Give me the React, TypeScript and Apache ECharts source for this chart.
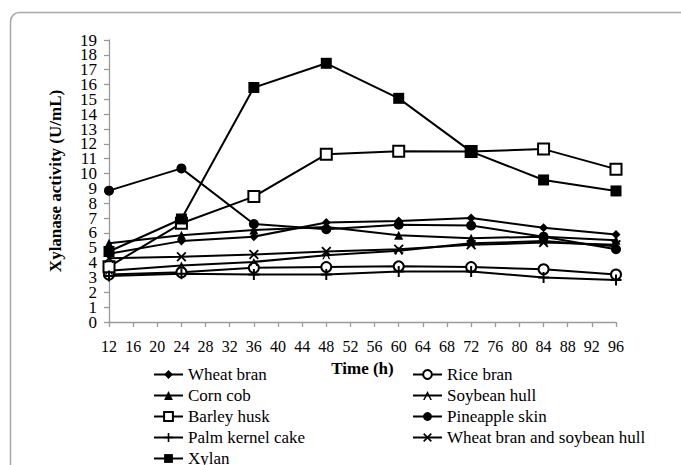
import React, { useEffect, useRef } from "react";
import * as echarts from "echarts";

const hours = [12, 24, 36, 48, 60, 72, 84, 96];
const wheatBran = [4.6, 5.45, 5.75, 6.7, 6.8, 7.0, 6.35, 5.9];
const riceBran = [3.2, 3.35, 3.65, 3.7, 3.75, 3.7, 3.55, 3.2];
const cornCob = [5.3, 5.85, 6.2, 6.4, 5.85, 5.65, 5.75, 5.5];
const soybeanHull = [3.45, 3.8, 4.05, 4.5, 4.8, 5.3, 5.45, 5.1];
const barleyHusk = [3.73, 6.65, 8.45, 11.3, 11.5, 11.48, 11.65, 10.3];
const pineappleSkin = [8.85, 10.35, 6.6, 6.25, 6.55, 6.5, 5.75, 4.9];
const palmKernelCake = [3.1, 3.25, 3.2, 3.2, 3.4, 3.4, 3.0, 2.83];
const wheatBranSoybean = [4.3, 4.4, 4.55, 4.75, 4.9, 5.2, 5.35, 5.2];
const xylan = [4.75, 6.94, 15.8, 17.43, 15.07, 11.48, 9.57, 8.83];
const yTicks = { min: 0, max: 19, interval: 1 };
const yTickLabels = [
  "0", "1", "2", "3", "4", "5", "6", "7", "8", "9",
  "10", "11", "12", "13", "14", "15", "16", "17", "18", "19",
];
const xTicks = { min: 12, max: 96, interval: 4 };

const PLUS = "path://M4.1,0H5.9V4.1H10V5.9H5.9V10H4.1V5.9H0V4.1H4.1Z";
const CROSS = "path://M0,1.3L1.3,0L5,3.7L8.7,0L10,1.3L6.3,5L10,8.7L8.7,10L5,6.3L1.3,10L0,8.7L3.7,5Z";
const CARET = "path://M0,10L5,0L10,10L8.2,10L5,3.6L1.8,10Z";

const FONT = "Times New Roman, Liberation Serif, DejaVu Serif, serif";

export default function App() {
  const ref = useRef<HTMLDivElement>(null);
  useEffect(() => {
    if (!ref.current) return;
    const chart = echarts.init(ref.current, undefined, { renderer: "svg" });
    const mk = (name: string, vals: number[], symbol: string, size: number, hollow = false) => ({
      name,
      type: "line",
      yAxisIndex: 0,
      data: hours.map((h, i) => [h, vals[i]]),
      symbol,
      symbolSize: size,
      showAllSymbol: true,
      lineStyle: { color: "#000", width: 2 },
      itemStyle: hollow
        ? { color: "#000", borderColor: "#000", borderWidth: 1.8 }
        : { color: "#000" },
      emphasis: { disabled: true },
    });
    const series = [
      mk("Wheat bran", wheatBran, "diamond", 9),
      mk("Rice bran", riceBran, "emptyCircle", 10, true),
      mk("Corn cob", cornCob, "triangle", 9),
      mk("Soybean hull", soybeanHull, CARET, 8),
      mk("Barley husk", barleyHusk, "emptyRect", 11, true),
      mk("Pineapple skin", pineappleSkin, "circle", 10),
      mk("Palm kernel cake", palmKernelCake, PLUS, 11),
      mk("Wheat bran and soybean hull", wheatBranSoybean, CROSS, 10),
      mk("Xylan", xylan, "rect", 11),
    ];
    const legendCommon = {
      orient: "vertical" as const,
      top: 366,
      height: 120,
      itemWidth: 29,
      itemHeight: 11,
      itemGap: 4,
      padding: 0,
      textStyle: { fontFamily: FONT, fontSize: 17, color: "#000", lineHeight: 17 },
      selectedMode: false,
    };
    chart.setOption({
      animation: false,
      backgroundColor: "#fff",
      textStyle: { fontFamily: FONT },
      graphic: [
        {
          type: "rect",
          z: -10,
          shape: { x: 10.5, y: 12.5, width: 720, height: 520, r: 9 },
          style: { fill: "none", stroke: "#a8a8a8", lineWidth: 1.5 },
        },
      ],
      grid: { left: 109, right: 65, top: 40, bottom: 143 },
      legend: [
        {
          ...legendCommon,
          left: 153,
          data: ["Wheat bran", "Corn cob", "Barley husk", "Palm kernel cake", "Xylan"],
        },
        {
          ...legendCommon,
          left: 412,
          data: ["Rice bran", "Soybean hull", "Pineapple skin", "Wheat bran and soybean hull"],
        },
      ],
      xAxis: {
        type: "value",
        min: xTicks.min,
        max: xTicks.max,
        interval: xTicks.interval,
        name: "Time (h)",
        nameLocation: "middle",
        nameGap: 38,
        nameTextStyle: { fontFamily: FONT, fontSize: 17, fontWeight: "bold", color: "#000" },
        axisLine: { lineStyle: { color: "#9a9a9a", width: 1.3 } },
        axisTick: { inside: false, length: 5, lineStyle: { color: "#9a9a9a", width: 1.3 } },
        axisLabel: {
          fontFamily: FONT, fontSize: 16, color: "#000", margin: 16,
          showMinLabel: true, showMaxLabel: true,
        },
        splitLine: { show: false },
      },
      yAxis: [
        {
          type: "value",
          position: "left",
          min: yTicks.min,
          max: yTicks.max,
          interval: yTicks.interval,
          name: "Xylanase activity (U/mL)",
          nameLocation: "middle",
          nameGap: 45,
          nameTextStyle: { fontFamily: FONT, fontSize: 17, fontWeight: "bold", color: "#000" },
          axisLine: { show: true, lineStyle: { color: "#9a9a9a", width: 1.3 } },
          axisTick: { show: true, inside: false, length: 5, lineStyle: { color: "#9a9a9a", width: 1.3 } },
          axisLabel: { show: false },
          splitLine: { show: false },
        },
        {
          type: "category",
          position: "left",
          offset: 0,
          data: yTickLabels,
          boundaryGap: false,
          axisLine: { show: false },
          axisTick: { show: false },
          splitLine: { show: false },
          axisLabel: {
            interval: 0,
            fontFamily: FONT, fontSize: 17, lineHeight: 14, color: "#000", margin: 12,
          },
        },
      ],
      series,
    });
    return () => chart.dispose();
  }, []);
  return (
    <div
      ref={ref}
      style={{ position: "fixed", left: 0, top: 0, width: 681, height: 465, background: "#fff" }}
    />
  );
}
